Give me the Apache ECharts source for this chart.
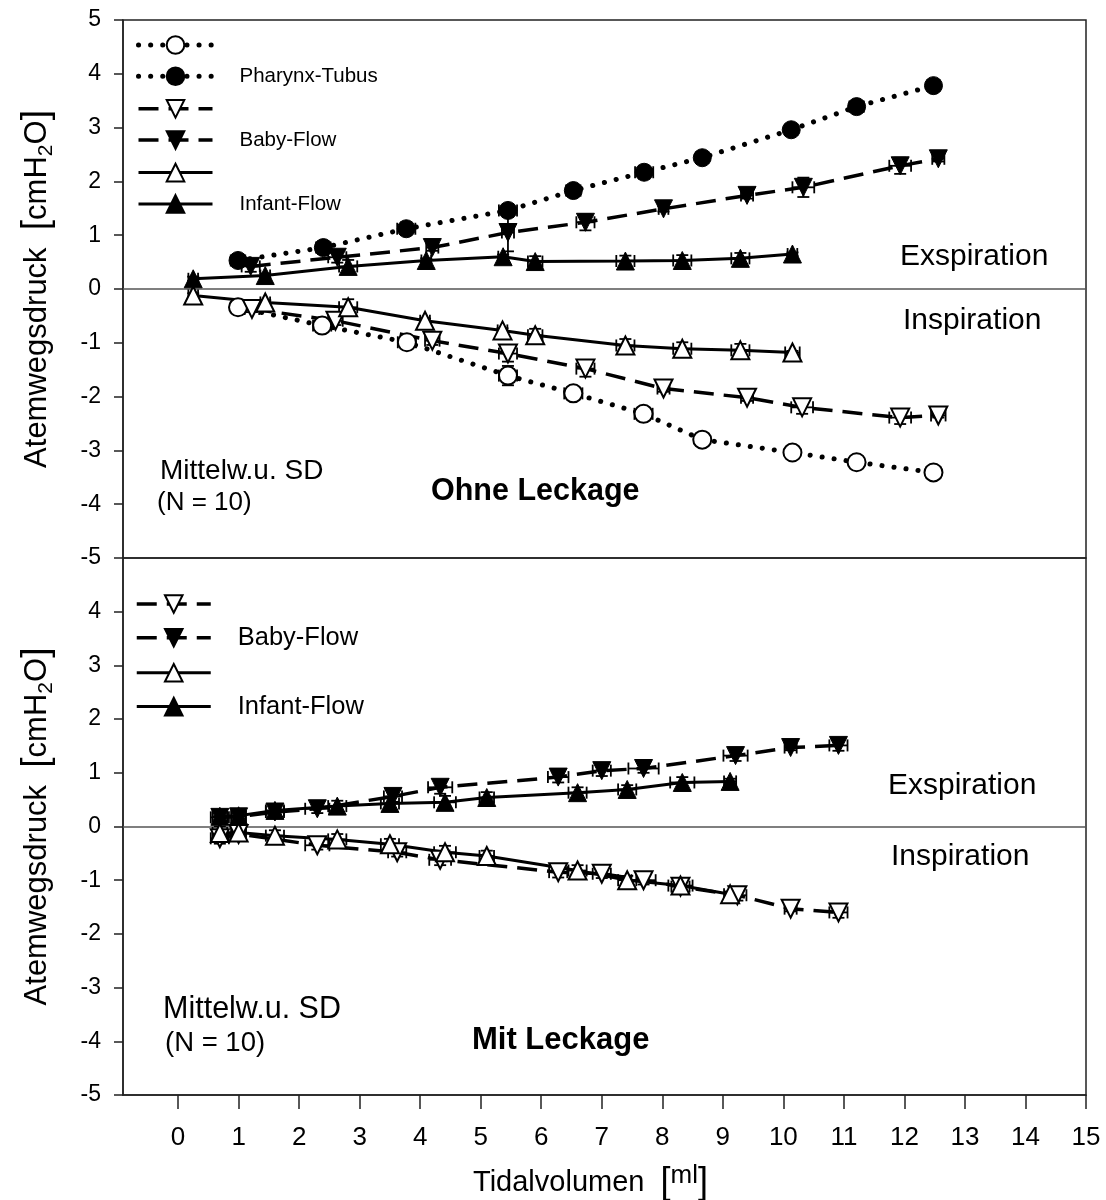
<!DOCTYPE html>
<html>
<head>
<meta charset="utf-8">
<script src="https://cdn.jsdelivr.net/npm/echarts@6/dist/echarts.min.js"></script>
<style>html,body{margin:0;padding:0;background:#fff}#c{width:1106px;height:1200px}</style>
</head>
<body>
<div id="c"></div>
<script>
// ---- data (x = Tidalvolumen [ml], y = Atemwegsdruck [cmH2O]) ----
const xTickValues = [0,1,2,3,4,5,6,7,8,9,10,11,12,13,14,15];

// Ohne Leckage (top panel): mean points
const ohnePharynxInsp = [[0.99,-0.34],[2.38,-0.68],[3.78,-0.99],[5.45,-1.61],[6.53,-1.94],[7.69,-2.32],[8.66,-2.80],[10.15,-3.04],[11.21,-3.22],[12.48,-3.41]];
const ohnePharynxExp  = [[0.99,0.53],[2.40,0.77],[3.77,1.12],[5.45,1.46],[6.53,1.83],[7.70,2.17],[8.66,2.44],[10.13,2.96],[11.21,3.39],[12.48,3.78]];
const ohneBabyInsp    = [[1.22,-0.37],[2.60,-0.59],[4.20,-0.96],[5.45,-1.20],[6.73,-1.48],[8.02,-1.85],[9.40,-2.02],[10.31,-2.20],[11.93,-2.39],[12.56,-2.35]];
const ohneBabyExp     = [[1.20,0.42],[2.63,0.59],[4.20,0.77],[5.45,1.05],[6.73,1.24],[8.02,1.49],[9.40,1.74],[10.33,1.89],[11.93,2.29],[12.56,2.42]];
const ohneInfantInsp  = [[0.25,-0.12],[1.44,-0.25],[2.81,-0.34],[4.08,-0.59],[5.36,-0.77],[5.90,-0.86],[7.39,-1.05],[8.33,-1.11],[9.29,-1.14],[10.15,-1.18]];
const ohneInfantExp   = [[0.25,0.19],[1.44,0.25],[2.81,0.42],[4.10,0.53],[5.37,0.60],[5.90,0.51],[7.39,0.52],[8.33,0.53],[9.29,0.57],[10.15,0.65]];

// Ohne Leckage: SD (x in ml, y in cmH2O)
const ohnePharynxInspSdX = [0.12,0.15,0.15,0.15,0.15,0.15,0.10,0.10,0.05,0.12];
const ohnePharynxInspSdY = [0.06,0.10,0.10,0.18,0.12,0.12,0.06,0.06,0.04,0.05];
const ohnePharynxExpSdX  = [0.12,0.12,0.15,0.15,0.12,0.15,0.10,0.10,0.12,0.10];
const ohnePharynxExpSdY  = [0.08,0.12,0.12,0.12,0.10,0.12,0.08,0.06,0.08,0.08];
const ohneBabyInspSdX    = [0.12,0.12,0.12,0.15,0.15,0.10,0.10,0.18,0.18,0.12];
const ohneBabyInspSdY    = [0.06,0.08,0.08,0.15,0.15,0.06,0.06,0.12,0.12,0.04];
const ohneBabyExpSdX     = [0.15,0.15,0.10,0.10,0.15,0.08,0.10,0.18,0.18,0.10];
const ohneBabyExpSdY     = [0.10,0.10,0.06,0.35,0.15,0.05,0.06,0.18,0.15,0.05];
const ohneInfantInspSdX  = [0.08,0.08,0.15,0.08,0.08,0.12,0.15,0.15,0.15,0.12];
const ohneInfantInspSdY  = [0.04,0.04,0.15,0.04,0.04,0.12,0.12,0.12,0.12,0.03];
const ohneInfantExpSdX   = [0.08,0.08,0.15,0.08,0.08,0.12,0.15,0.15,0.15,0.08];
const ohneInfantExpSdY   = [0.04,0.04,0.12,0.04,0.04,0.10,0.10,0.10,0.10,0.03];

// Mit Leckage (bottom panel): mean points
const mitBabyInsp   = [[0.69,-0.22],[1.00,-0.14],[2.30,-0.35],[3.62,-0.48],[4.33,-0.62],[6.28,-0.85],[7.00,-0.88],[7.69,-1.00],[8.30,-1.12],[9.24,-1.28],[10.12,-1.53],[10.91,-1.60]];
const mitBabyExp    = [[0.69,0.17],[1.00,0.18],[1.60,0.27],[2.30,0.33],[3.55,0.56],[4.33,0.73],[6.28,0.92],[7.00,1.04],[7.69,1.08],[9.21,1.32],[10.12,1.47],[10.91,1.51]];
const mitInfantInsp = [[0.69,-0.12],[1.00,-0.11],[1.60,-0.17],[2.63,-0.24],[3.50,-0.33],[4.41,-0.48],[5.10,-0.55],[6.60,-0.82],[7.42,-1.00],[8.30,-1.10],[9.12,-1.26]];
const mitInfantExp  = [[0.69,0.19],[1.00,0.20],[1.60,0.30],[2.63,0.38],[3.50,0.43],[4.41,0.45],[5.10,0.54],[6.60,0.63],[7.42,0.69],[8.33,0.82],[9.12,0.84]];

// Mit Leckage: SD
const mitBabyInspSdX   = [0.15,0.12,0.20,0.15,0.18,0.15,0.15,0.20,0.15,0.15,0.10,0.15];
const mitBabyInspSdY   = [0.10,0.10,0.08,0.08,0.10,0.10,0.08,0.08,0.08,0.10,0.05,0.10];
const mitBabyExpSdX    = [0.15,0.12,0.15,0.20,0.15,0.20,0.17,0.15,0.25,0.20,0.10,0.15];
const mitBabyExpSdY    = [0.10,0.10,0.10,0.08,0.10,0.12,0.10,0.10,0.08,0.10,0.05,0.10];
const mitInfantInspSdX = [0.12,0.12,0.15,0.15,0.15,0.18,0.12,0.15,0.15,0.20,0.10];
const mitInfantInspSdY = [0.12,0.10,0.10,0.10,0.10,0.12,0.10,0.10,0.08,0.10,0.05];
const mitInfantExpSdX  = [0.12,0.12,0.15,0.15,0.15,0.18,0.12,0.15,0.15,0.20,0.10];
const mitInfantExpSdY  = [0.10,0.10,0.10,0.10,0.10,0.12,0.10,0.10,0.08,0.10,0.05];

// ---- styles ----
const FONT = 'Liberation Sans, Arial, sans-serif';
const LINES = {
  dotted: {type:[0.1,12], width:5, cap:'round', color:'#000'},
  dashed: {type:[20,10], width:3.5, color:'#000'},
  solid:  {type:'solid', width:3, color:'#000'}
};
function mk(name, data, idx, symbol, rotate, filled, line, zero) {
  const s = {
    name: name, type:'line', data: data, xAxisIndex: idx, yAxisIndex: idx,
    symbol: symbol, symbolRotate: rotate, symbolSize: 18, showAllSymbol: true,
    lineStyle: LINES[line],
    itemStyle: filled ? {color:'#000', borderColor:'#000', borderWidth:1} : {color:'#fff', borderColor:'#000', borderWidth:2},
    z: filled ? 3 : 4
  };
  if (zero) {
    s.markLine = {silent:true, symbol:['none','none'], label:{show:false},
      lineStyle:{color:'#555', width:1.5, type:'solid'}, data:[{yAxis:0}], z:1};
  }
  return s;
}
function errBars(data, sdx, sdy, idx) {
  const rows = data.map((p, i) => [p[0], p[1], sdx[i], sdy[i]]);
  return {
    type:'custom', xAxisIndex: idx, yAxisIndex: idx, data: rows, z: 2, silent: true,
    encode:{x:0, y:1},
    renderItem: function(params, api) {
      const x = api.value(0), y = api.value(1), sx = api.value(2), sy = api.value(3);
      const l = api.coord([x - sx, y]), r = api.coord([x + sx, y]);
      const t = api.coord([x, y + sy]), b = api.coord([x, y - sy]);
      const cap = 6;
      const st = {stroke:'#000', lineWidth:1.8};
      const ln = (x1,y1,x2,y2) => ({type:'line', shape:{x1:x1,y1:y1,x2:x2,y2:y2}, style:st});
      return {type:'group', children:[
        ln(l[0], l[1], r[0], r[1]),
        ln(l[0], l[1]-cap, l[0], l[1]+cap),
        ln(r[0], r[1]-cap, r[0], r[1]+cap),
        ln(t[0], t[1], b[0], b[1]),
        ln(t[0]-cap, t[1], t[0]+cap, t[1]),
        ln(b[0]-cap, b[1], b[0]+cap, b[1])
      ]};
    }
  };
}
const labelMap = {
  'PT ohne exp': 'Pharynx-Tubus', 'BF ohne exp': 'Baby-Flow', 'IF ohne exp': 'Infant-Flow',
  'BF mit exp': 'Baby-Flow', 'IF mit exp': 'Infant-Flow'
};
const series = [
  errBars(ohnePharynxInsp, ohnePharynxInspSdX, ohnePharynxInspSdY, 0),
  errBars(ohnePharynxExp,  ohnePharynxExpSdX,  ohnePharynxExpSdY,  0),
  errBars(ohneBabyInsp,    ohneBabyInspSdX,    ohneBabyInspSdY,    0),
  errBars(ohneBabyExp,     ohneBabyExpSdX,     ohneBabyExpSdY,     0),
  errBars(ohneInfantInsp,  ohneInfantInspSdX,  ohneInfantInspSdY,  0),
  errBars(ohneInfantExp,   ohneInfantExpSdX,   ohneInfantExpSdY,   0),
  errBars(mitBabyInsp,     mitBabyInspSdX,     mitBabyInspSdY,     1),
  errBars(mitBabyExp,      mitBabyExpSdX,      mitBabyExpSdY,      1),
  errBars(mitInfantInsp,   mitInfantInspSdX,   mitInfantInspSdY,   1),
  errBars(mitInfantExp,    mitInfantExpSdX,    mitInfantExpSdY,    1),
  mk('PT ohne insp', ohnePharynxInsp, 0, 'circle', 0, false, 'dotted', true),
  mk('PT ohne exp',  ohnePharynxExp,  0, 'circle', 0, true,  'dotted'),
  mk('BF ohne insp', ohneBabyInsp,    0, 'triangle', 180, false, 'dashed'),
  mk('BF ohne exp',  ohneBabyExp,     0, 'triangle', 180, true,  'dashed'),
  mk('IF ohne insp', ohneInfantInsp,  0, 'triangle', 0, false, 'solid'),
  mk('IF ohne exp',  ohneInfantExp,   0, 'triangle', 0, true,  'solid'),
  mk('BF mit insp',  mitBabyInsp,     1, 'triangle', 180, false, 'dashed', true),
  mk('BF mit exp',   mitBabyExp,      1, 'triangle', 180, true,  'dashed'),
  mk('IF mit insp',  mitInfantInsp,   1, 'triangle', 0, false, 'solid'),
  mk('IF mit exp',   mitInfantExp,    1, 'triangle', 0, true,  'solid')
];
const lineKind = {
  'PT ohne insp':'dotted','PT ohne exp':'dotted','BF ohne insp':'dashed','BF ohne exp':'dashed',
  'IF ohne insp':'solid','IF ohne exp':'solid','BF mit insp':'dashed','BF mit exp':'dashed',
  'IF mit insp':'solid','IF mit exp':'solid'
};
function legendData(names) {
  return names.map(n => ({name:n, lineStyle: Object.assign({}, LINES[lineKind[n]])}));
}

const GL = 123, GW = 963;
const yName = '{t|Atemwegsdruck  }{b|[}{t|cmH}{s|2}{t|O}{b|]}';
const yNameRich = {
  t:{fontSize:31, fontFamily:FONT, color:'#000', lineHeight:40},
  b:{fontSize:37, fontFamily:FONT, color:'#000', lineHeight:40},
  s:{fontSize:21, fontFamily:FONT, color:'#000', lineHeight:22, verticalAlign:'bottom'}
};
function yAx(idx, hideTop) {
  return {
    gridIndex: idx, type:'value', min:-5, max:5, interval:1,
    axisLine:{show:true, onZero:false, lineStyle:{color:'#222', width:1.5}},
    axisTick:{show:true, inside:false, length:9, lineStyle:{color:'#222', width:1.5}},
    axisLabel:{fontSize:23, fontFamily:FONT, color:'#000', margin:22,
      formatter: v => (hideTop && v === 5) ? '' : String(v)},
    splitLine:{show:false},
    name: yName, nameLocation:'middle', nameGap:66, nameTextStyle:{rich:yNameRich}
  };
}
const option = {
  animation:false,
  backgroundColor:'#fff',
  grid:[
    {left:GL, top:20, width:GW, height:538, show:true, borderColor:'#222', borderWidth:1.5, outerBoundsMode:'none', containLabel:false},
    {left:GL, top:558, width:GW, height:537, show:true, borderColor:'#222', borderWidth:1.5, outerBoundsMode:'none', containLabel:false}
  ],
  xAxis:[
    {gridIndex:0, type:'value', min:-0.91, max:15, axisLine:{show:false, onZero:false}, axisTick:{show:false}, axisLabel:{show:false}, splitLine:{show:false}},
    {gridIndex:1, type:'value', min:-0.91, max:15,
      axisLine:{show:true, onZero:false, lineStyle:{color:'#222', width:1.5}},
      axisTick:{show:true, length:14, customValues:xTickValues, lineStyle:{color:'#222', width:1.5}},
      axisLabel:{customValues:xTickValues, fontSize:26, fontFamily:FONT, color:'#000', margin:30},
      splitLine:{show:false},
      name:'{t|Tidalvolumen  }{b|[}{m|ml}{b|]}', nameLocation:'middle', nameGap:68,
      nameTextStyle:{padding:[0,28,0,0], rich:{
        t:{fontSize:29, fontFamily:FONT, color:'#000', lineHeight:40},
        b:{fontSize:36, fontFamily:FONT, color:'#000', lineHeight:40},
        m:{fontSize:26, fontFamily:FONT, color:'#000', lineHeight:40, verticalAlign:'top'}
      }}
    }
  ],
  yAxis:[yAx(0,false), yAx(1,true)],
  legend:[
    {orient:'vertical', left:136, top:34, itemWidth:74, itemHeight:22, itemGap:11, padding:0,
      selectedMode:false,
      data: legendData(['PT ohne insp','PT ohne exp','BF ohne insp','BF ohne exp','IF ohne insp','IF ohne exp']),
      formatter: n => labelMap[n] || '',
      textStyle:{fontSize:20.5, fontFamily:FONT, color:'#000', padding:[0,0,0,22]}},
    {orient:'vertical', left:135, top:593, itemWidth:74, itemHeight:22, itemGap:11, padding:0,
      selectedMode:false,
      data: legendData(['BF mit insp','BF mit exp','IF mit insp','IF mit exp']),
      formatter: n => labelMap[n] || '',
      textStyle:{fontSize:25.5, fontFamily:FONT, color:'#000', padding:[0,0,0,22]}}
  ],
  graphic:[
    {type:'text', left:900, top:242, style:{text:'Exspiration', fontSize:30, fontFamily:FONT, fill:'#000'}},
    {type:'text', left:903, top:306, style:{text:'Inspiration', fontSize:30, fontFamily:FONT, fill:'#000'}},
    {type:'text', left:160, top:457, style:{text:'Mittelw.u. SD', fontSize:28, fontFamily:FONT, fill:'#000'}},
    {type:'text', left:157, top:490, style:{text:'(N = 10)', fontSize:26, fontFamily:FONT, fill:'#000'}},
    {type:'text', left:431, top:476, style:{text:'Ohne Leckage', fontSize:30.5, fontWeight:'bold', fontFamily:FONT, fill:'#000'}},
    {type:'text', left:888, top:771, style:{text:'Exspiration', fontSize:30, fontFamily:FONT, fill:'#000'}},
    {type:'text', left:891, top:842, style:{text:'Inspiration', fontSize:30, fontFamily:FONT, fill:'#000'}},
    {type:'text', left:163, top:994, style:{text:'Mittelw.u. SD', fontSize:30.5, fontFamily:FONT, fill:'#000'}},
    {type:'text', left:165, top:1029, style:{text:'(N = 10)', fontSize:27.5, fontFamily:FONT, fill:'#000'}},
    {type:'text', left:472, top:1025, style:{text:'Mit Leckage', fontSize:31, fontWeight:'bold', fontFamily:FONT, fill:'#000'}}
  ],
  series: series
};
const chart = echarts.init(document.getElementById('c'), null, {renderer:'canvas'});
chart.setOption(option);
</script>
</body>
</html>
